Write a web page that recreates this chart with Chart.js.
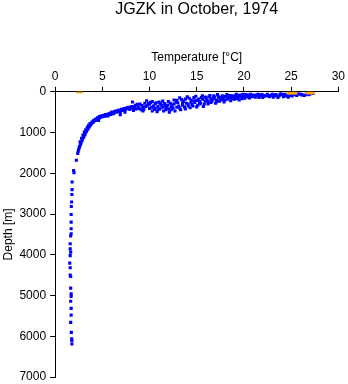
<!DOCTYPE html>
<html lang="en">
<head>
    <meta charset="UTF-8">
    <title>JGZK in October, 1974</title>
    <script src="https://cdn.jsdelivr.net/npm/chart.js"></script>
    <style>
        body { margin: 0; background: #fff; }
        canvas { display: block; }
    </style>
</head>
<body>
    <canvas id="profileChart" width="348" height="384"></canvas>

    <script>
        // [temperature °C, depth m]
        const surfaceMarks = [
            [2.4, 0], [2.6, 0], [2.8, 0],
            [24.7, 30], [24.9, 30], [25.1, 30], [25.3, 30], [25.5, 30],
            [26.7, 30], [26.9, 25], [27.1, 30], [27.3, 25]
        ];

        const deepProfile = [
            [1.96, 1930], [2.0, 1985], [1.8, 2215], [1.8, 2400], [1.78, 2520], [1.75, 2705],
            [1.72, 2815], [1.7, 3010], [1.7, 3200], [1.7, 3360], [1.7, 3485], [1.65, 3540],
            [1.6, 3730], [1.6, 3855], [1.65, 3935], [1.6, 4020], [1.55, 4205], [1.6, 4320],
            [1.6, 4495], [1.65, 4535], [1.65, 4820], [1.7, 4960], [1.7, 5020], [1.65, 5140],
            [1.7, 5315], [1.7, 5480], [1.65, 5660], [1.72, 5905], [1.75, 6065], [1.78, 6110],
            [1.78, 6190]
        ];

        const thermocline = [
            [2.25, 1680], [2.4, 1510], [2.45, 1460], [2.5, 1420], [2.55, 1370], [2.6, 1340],
            [2.7, 1290], [2.75, 1250], [2.85, 1200], [2.9, 1160], [3.0, 1120], [3.05, 1090],
            [3.15, 1050], [3.2, 1010], [3.3, 980], [3.35, 950], [3.45, 920], [3.5, 890],
            [3.6, 860], [3.7, 830], [3.75, 800], [3.85, 780], [4.0, 750], [4.1, 730],
            [4.25, 700], [4.4, 680], [4.55, 660], [4.7, 640], [4.85, 620], [5.0, 610],
            [2.65, 1230], [2.8, 1140], [2.95, 1060], [3.1, 990], [3.25, 930], [3.4, 870],
            [3.55, 820], [3.7, 780], [3.9, 740], [4.1, 700], [4.3, 670], [4.5, 640],
            [4.7, 610], [4.9, 590], [5.1, 580], [5.3, 600], [4.6, 700], [5.6, 590]
        ];

        const upperLayer = [
            [5.2, 590], [5.3, 560], [5.5, 570], [5.6, 545], [5.8, 530], [5.9, 555], [6.0, 500],
            [6.1, 520], [6.3, 490], [6.4, 470], [6.6, 480], [6.7, 455], [6.9, 500], [7.0, 430],
            [7.2, 445], [7.3, 410], [7.5, 420], [7.6, 395], [7.8, 380], [7.9, 430], [8.1, 360],
            [8.2, 250], [8.3, 390], [8.5, 330], [8.6, 420], [8.8, 350], [9.0, 300], [9.1, 440],
            [9.3, 380], [9.5, 280], [9.7, 220], [9.8, 330], [10.0, 410], [10.1, 260], [10.3, 470],
            [10.4, 350], [10.6, 300], [10.8, 490], [11.0, 250], [11.1, 420], [11.3, 340], [11.5, 470],
            [11.6, 290], [11.8, 390], [12.0, 240], [12.1, 500], [12.3, 440], [12.4, 320], [12.6, 200],
            [12.7, 470], [12.9, 380], [13.0, 270], [13.2, 150], [13.3, 440], [13.5, 330], [13.6, 230],
            [13.8, 420], [14.0, 120], [14.1, 300], [14.3, 390], [14.4, 200], [14.6, 350], [14.8, 260],
            [14.9, 110], [15.1, 330], [15.2, 180], [15.4, 280], [15.6, 100], [15.7, 360], [15.9, 230],
            [16.0, 150], [16.2, 300], [16.4, 90], [16.5, 260], [16.7, 190], [16.9, 130], [17.0, 280],
            [17.2, 70], [17.4, 230], [17.5, 160], [17.7, 100], [17.9, 250], [18.0, 200], [18.2, 70],
            [18.4, 140], [18.6, 220], [18.8, 100], [19.0, 180], [19.2, 60], [19.4, 150], [19.5, 200],
            [19.7, 110], [19.9, 60], [20.1, 160], [20.3, 90], [20.5, 130], [20.7, 60], [21.0, 110],
            [21.3, 80], [21.6, 140], [21.9, 70], [22.2, 110], [22.5, 60], [22.8, 90], [23.1, 130],
            [23.4, 70], [23.7, 100], [23.9, 50], [24.2, 120], [24.5, 80], [24.8, 60], [25.1, 100],
            [25.4, 70], [25.8, 50], [26.2, 80], [26.6, 60], [27.0, 50], [27.3, 40],
            [8.0, 400], [8.4, 370], [8.7, 310], [9.2, 340], [9.4, 430], [9.6, 360], [9.9, 290],
            [10.2, 380], [10.5, 430], [10.7, 270], [10.9, 360], [11.2, 300], [11.4, 380], [11.7, 440],
            [11.9, 330], [12.2, 280], [12.5, 400], [12.8, 250], [13.1, 350], [13.4, 190], [13.7, 370],
            [13.9, 280], [14.2, 160], [14.5, 310], [14.7, 220], [15.0, 370], [15.3, 240], [15.5, 140],
            [15.8, 300], [16.1, 200], [16.3, 120], [16.6, 230], [16.8, 160], [17.1, 200], [17.3, 120],
            [17.6, 200], [17.8, 150], [18.1, 120], [18.3, 180], [18.5, 90], [18.7, 160], [18.9, 130],
            [19.1, 100], [19.3, 170], [19.6, 80], [19.8, 140], [20.0, 100], [20.2, 70], [20.4, 110],
            [20.6, 150], [20.9, 80], [21.2, 130], [21.5, 60], [21.8, 100], [22.0, 140], [22.4, 90],
            [22.7, 120], [23.0, 60], [23.3, 100], [23.6, 140], [24.0, 70], [24.4, 100], [24.7, 130],
            [25.0, 70], [25.6, 90], [26.0, 60], [26.4, 90], [26.8, 70],
            [10.0, 300], [10.3, 240], [10.6, 400], [10.9, 440], [11.1, 280], [11.4, 230], [11.7, 350],
            [12.0, 420], [12.3, 360], [12.6, 300], [12.9, 210], [13.2, 400], [13.5, 270], [13.8, 180],
            [14.1, 350], [14.4, 250], [14.7, 140], [15.0, 210], [15.3, 300], [15.6, 180], [15.9, 130],
            [16.2, 240], [16.5, 170], [16.8, 100], [17.1, 240], [17.4, 140], [17.7, 180], [18.0, 110],
            [18.3, 150], [18.6, 120], [18.9, 170], [19.2, 130], [19.5, 90], [19.8, 170], [20.1, 120],
            [20.4, 80], [20.8, 120], [21.1, 90], [21.4, 110], [21.7, 80], [22.1, 90], [22.6, 100],
            [23.2, 80], [23.8, 80], [24.3, 60], [24.9, 90], [25.3, 50], [26.1, 70], [26.9, 50],
            [5.7, 560], [6.2, 540], [6.5, 500], [6.8, 470], [7.1, 460], [7.4, 440], [7.7, 410],
            [6.9, 560], [7.4, 500], [8.9, 410], [9.3, 470], [8.3, 460]
        ];

        const toXY = pts => pts.map(p => ({ x: p[0], y: p[1] }));
        const bluePoints = toXY(deepProfile.concat(thermocline, upperLayer));

        const axisFont = { family: '"Liberation Sans", Arial, sans-serif', size: 12 };

        // title centred over the plot area, like the original
        const plotTitle = {
            id: 'plotTitle',
            afterDraw(chart) {
                const ctx = chart.ctx;
                const area = chart.chartArea;
                ctx.save();
                ctx.fillStyle = '#000';
                ctx.font = '16px "Liberation Sans", Arial, sans-serif';
                ctx.textAlign = 'center';
                ctx.textBaseline = 'middle';
                ctx.fillText('JGZK in October, 1974', (area.left + area.right) / 2, 10);
                ctx.restore();
            }
        };

        const ctx = document.getElementById('profileChart').getContext('2d');
        new Chart(ctx, {
            type: 'scatter',
            data: {
                datasets: [{
                    label: 'surface',
                    data: toXY(surfaceMarks),
                    backgroundColor: '#FFA500',
                    borderWidth: 0,
                    pointStyle: 'rect',
                    pointRadius: 2.2
                }, {
                    label: 'profile',
                    data: bluePoints,
                    backgroundColor: '#0000FF',
                    borderWidth: 0,
                    pointStyle: 'rect',
                    pointRadius: 2.2
                }]
            },
            options: {
                responsive: false,
                animation: false,
                layout: {
                    padding: { top: 50, right: 8, bottom: 7, left: 0 }
                },
                plugins: {
                    legend: { display: false },
                    tooltip: { enabled: false }
                },
                scales: {
                    x: {
                        type: 'linear',
                        position: 'top',
                        min: 0,
                        max: 30,
                        ticks: {
                            stepSize: 5,
                            color: '#000',
                            padding: 3,
                            maxRotation: 0,
                            font: axisFont,
                            callback: v => String(v)
                        },
                        grid: { drawOnChartArea: false, tickLength: 5, color: '#000' },
                        border: { color: '#000' },
                        title: {
                            display: true,
                            text: 'Temperature [°C]',
                            color: '#000',
                            padding: { top: 0, bottom: 2 },
                            font: axisFont
                        }
                    },
                    y: {
                        type: 'linear',
                        reverse: true,
                        min: 0,
                        max: 7000,
                        afterFit: scale => { scale.paddingBottom = 0; },
                        ticks: {
                            stepSize: 1000,
                            color: '#000',
                            padding: 4,
                            font: axisFont,
                            callback: v => String(v)
                        },
                        grid: { drawOnChartArea: false, tickLength: 5, color: '#000' },
                        border: { color: '#000' },
                        title: {
                            display: true,
                            text: 'Depth [m]',
                            color: '#000',
                            padding: { top: 1, bottom: 0 },
                            font: axisFont
                        }
                    }
                }
            },
            plugins: [plotTitle]
        });
    </script>
</body>
</html>
